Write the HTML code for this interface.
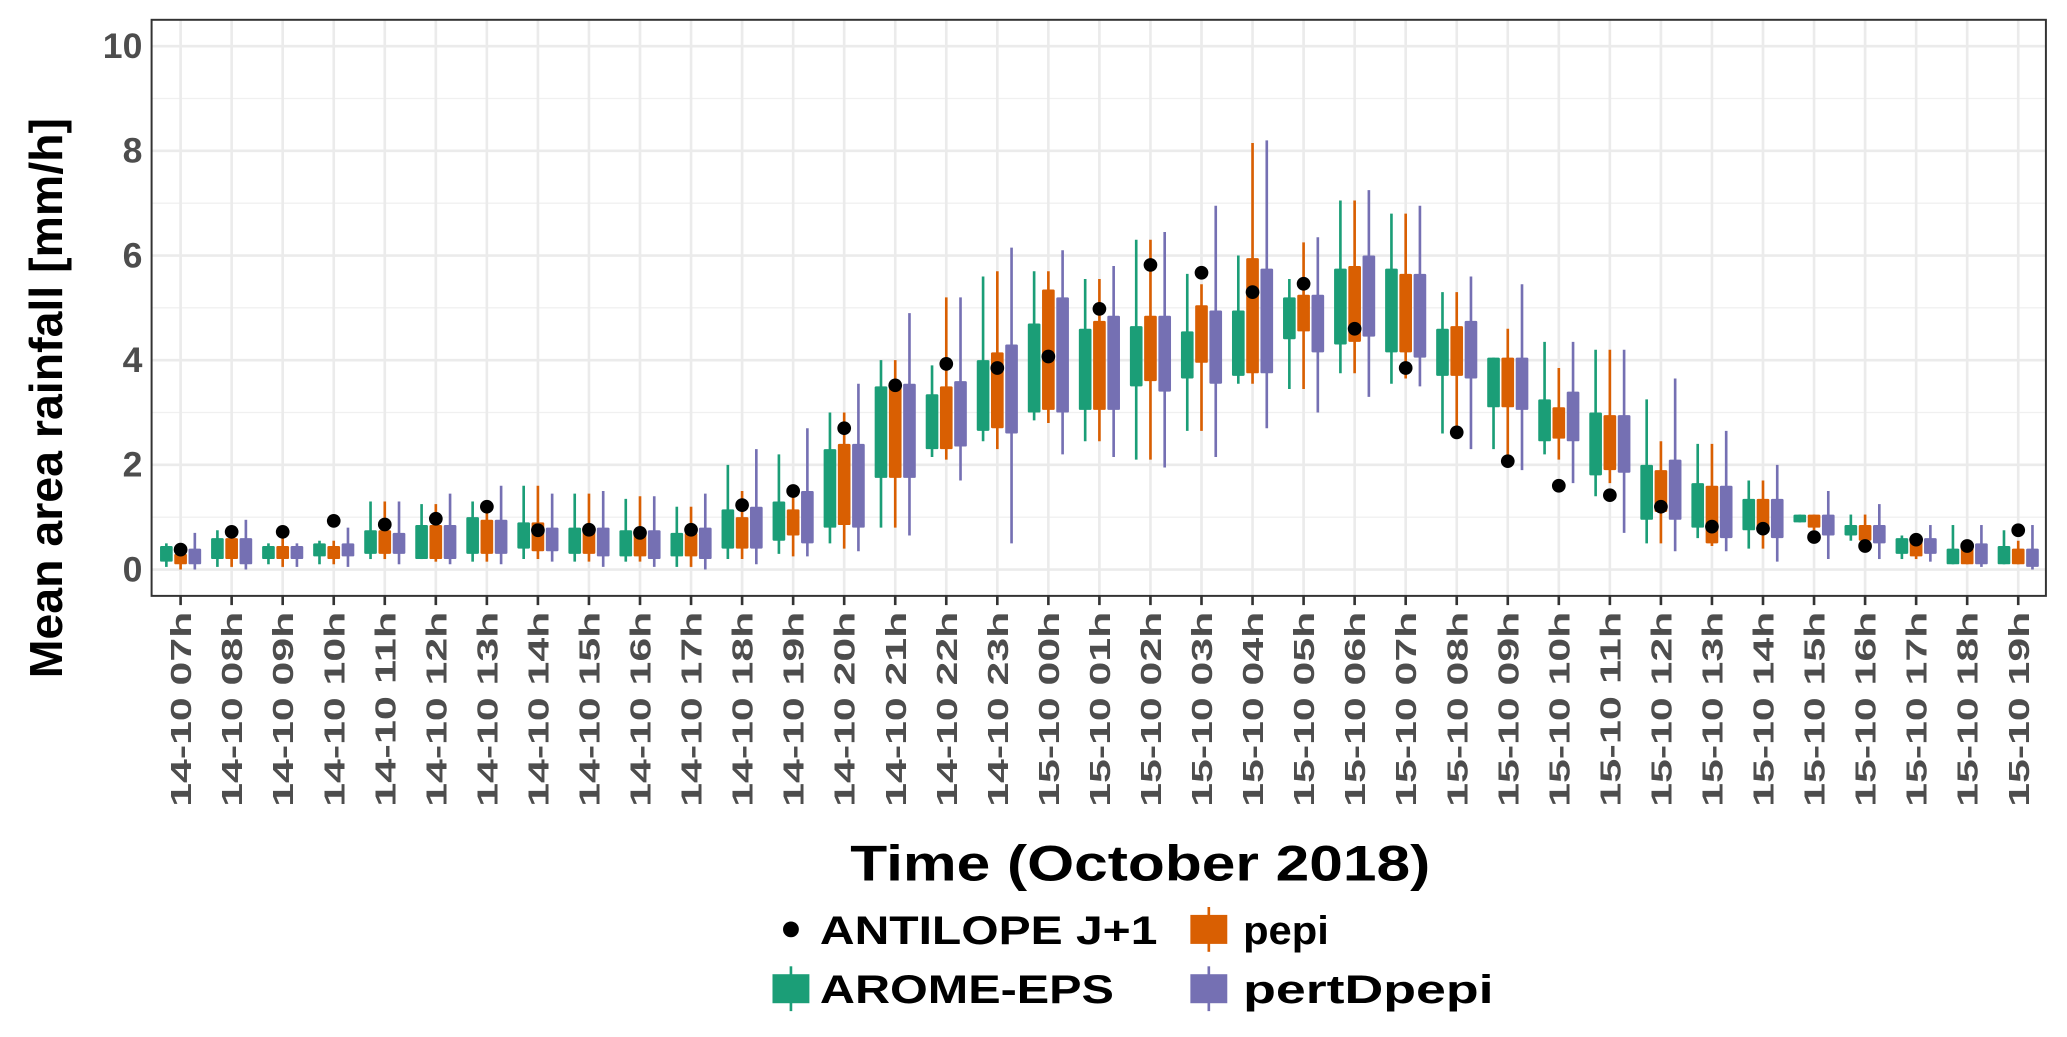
<!DOCTYPE html>
<html><head><meta charset="utf-8"><style>
html,body{margin:0;padding:0;background:#fff;}
svg{display:block;font-family:"Liberation Sans",sans-serif;}
</style></head><body>
<svg id="chart" width="2067" height="1037" viewBox="0 0 1568 786.6" xmlns="http://www.w3.org/2000/svg">
<rect x="0" y="0" width="1568" height="786.6" fill="#fff"/>
<g id="grid"></g><g id="marks"></g><g id="axes"></g>
<text x="0" y="0" transform="translate(47,302) rotate(-90)" text-anchor="middle" font-size="35" font-weight="bold" fill="#000" textLength="425" lengthAdjust="spacingAndGlyphs">Mean area rainfall [mm/h]</text>
<text x="865" y="668" text-anchor="middle" font-size="38" font-weight="bold" fill="#000" textLength="440" lengthAdjust="spacingAndGlyphs">Time (October 2018)</text>
<g>
<g><circle cx="600" cy="705" r="6" fill="#000"/><text x="622" y="716" font-size="30" font-weight="bold" textLength="256" lengthAdjust="spacingAndGlyphs">ANTILOPE J+1</text></g>
<g><line x1="917" y1="688" x2="917" y2="722" stroke="#d95f02" stroke-width="2"/><rect x="903" y="694" width="28" height="22" fill="#d95f02"/><text x="943" y="716" font-size="30" font-weight="bold" textLength="65" lengthAdjust="spacingAndGlyphs">pepi</text></g>
<g><line x1="600" y1="733" x2="600" y2="767" stroke="#1b9e77" stroke-width="2"/><rect x="586" y="739" width="28" height="22" fill="#1b9e77"/><text x="622" y="761" font-size="30" font-weight="bold" textLength="223" lengthAdjust="spacingAndGlyphs">AROME-EPS</text></g>
<g><line x1="917" y1="733" x2="917" y2="767" stroke="#7570b3" stroke-width="2"/><rect x="903" y="739" width="28" height="22" fill="#7570b3"/><text x="943" y="761" font-size="30" font-weight="bold" textLength="190" lengthAdjust="spacingAndGlyphs">pertDpepi</text></g>
</g>
</svg>
<script>
const hours = ["07h","08h","09h","10h","11h","12h","13h","14h","15h","16h","17h","18h","19h","20h","21h","22h","23h","00h","01h","02h","03h","04h","05h","06h","07h","08h","09h","10h","11h","12h","13h","14h","15h","16h","17h","18h","19h"];
const days = ["14-10","14-10","14-10","14-10","14-10","14-10","14-10","14-10","14-10","14-10","14-10","14-10","14-10","14-10","14-10","14-10","14-10","15-10","15-10","15-10","15-10","15-10","15-10","15-10","15-10","15-10","15-10","15-10","15-10","15-10","15-10","15-10","15-10","15-10","15-10","15-10","15-10"];
const yTicks = [0,2,4,6,8,10];
const antilope = [0.38,0.72,0.72,0.93,0.86,0.97,1.2,0.75,0.76,0.7,0.76,1.23,1.5,2.7,3.52,3.93,3.85,4.07,4.98,5.82,5.67,5.3,5.46,4.6,3.85,2.62,2.07,1.6,1.42,1.2,0.82,0.78,0.62,0.45,0.57,0.45,0.75];
// [whiskerLow, q1, q3, whiskerHigh]
const arome = [[0.05,0.15,0.45,0.5],[0.05,0.2,0.6,0.75],[0.1,0.2,0.45,0.5],[0.1,0.25,0.5,0.55],[0.2,0.3,0.75,1.3],[0.2,0.2,0.85,1.25],[0.15,0.3,1.0,1.3],[0.2,0.4,0.9,1.6],[0.15,0.3,0.8,1.45],[0.15,0.25,0.75,1.35],[0.05,0.25,0.7,1.2],[0.2,0.4,1.15,2.0],[0.3,0.55,1.3,2.2],[0.5,0.8,2.3,3.0],[0.8,1.75,3.5,4.0],[2.15,2.3,3.35,3.9],[2.45,2.65,4.0,5.6],[2.85,3.0,4.7,5.7],[2.45,3.05,4.6,5.55],[2.1,3.5,4.65,6.3],[2.65,3.65,4.55,5.65],[3.55,3.7,4.95,6.0],[3.45,4.4,5.2,5.55],[3.75,4.3,5.75,7.05],[3.55,4.15,5.75,6.8],[2.6,3.7,4.6,5.3],[2.3,3.1,4.05,4.05],[2.2,2.45,3.25,4.35],[1.4,1.8,3.0,4.2],[0.5,0.95,2.0,3.25],[0.6,0.8,1.65,2.4],[0.4,0.75,1.35,1.7],[0.9,0.9,1.05,1.05],[0.55,0.65,0.85,1.05],[0.2,0.3,0.6,0.65],[0.1,0.1,0.4,0.85],[0.1,0.1,0.45,0.75]];
const pepi = [[0,0.1,0.3,0.35],[0.05,0.2,0.6,0.75],[0.05,0.2,0.45,0.6],[0.1,0.2,0.45,0.55],[0.2,0.3,0.75,1.3],[0.15,0.2,0.85,1.25],[0.15,0.3,0.95,1.3],[0.2,0.35,0.9,1.6],[0.15,0.3,0.75,1.45],[0.15,0.25,0.7,1.4],[0.05,0.25,0.7,1.2],[0.2,0.4,1.0,1.5],[0.25,0.65,1.15,1.6],[0.4,0.85,2.4,3.0],[0.8,1.75,3.55,4.0],[2.1,2.3,3.5,5.2],[2.3,2.7,4.15,5.7],[2.8,3.05,5.35,5.7],[2.45,3.05,4.75,5.55],[2.1,3.6,4.85,6.3],[2.65,3.95,5.05,5.45],[3.55,3.75,5.95,8.15],[3.45,4.55,5.25,6.25],[3.75,4.35,5.8,7.05],[3.65,4.15,5.65,6.8],[2.6,3.7,4.65,5.3],[1.95,3.1,4.05,4.6],[2.1,2.5,3.1,3.85],[1.65,1.9,2.95,4.2],[0.5,1.1,1.9,2.45],[0.45,0.5,1.6,2.4],[0.4,0.75,1.35,1.7],[0.75,0.8,1.05,1.05],[0.45,0.55,0.85,1.05],[0.2,0.25,0.55,0.6],[0.1,0.1,0.45,0.55],[0.1,0.1,0.4,0.55]];
const pert = [[0,0.1,0.4,0.7],[0,0.1,0.6,0.95],[0.05,0.2,0.45,0.5],[0.05,0.25,0.5,0.8],[0.1,0.3,0.7,1.3],[0.1,0.2,0.85,1.45],[0.1,0.3,0.95,1.6],[0.15,0.35,0.8,1.45],[0.05,0.25,0.8,1.5],[0.05,0.2,0.75,1.4],[0,0.2,0.8,1.45],[0.1,0.4,1.2,2.3],[0.25,0.5,1.5,2.7],[0.35,0.8,2.4,3.55],[0.65,1.75,3.55,4.9],[1.7,2.35,3.6,5.2],[0.5,2.6,4.3,6.15],[2.2,3.0,5.2,6.1],[2.15,3.05,4.85,5.8],[1.95,3.4,4.85,6.45],[2.15,3.55,4.95,6.95],[2.7,3.75,5.75,8.2],[3.0,4.15,5.25,6.35],[3.3,4.45,6.0,7.25],[3.5,4.05,5.65,6.95],[2.3,3.65,4.75,5.6],[1.9,3.05,4.05,5.45],[1.65,2.45,3.4,4.35],[0.7,1.85,2.95,4.2],[0.35,0.95,2.1,3.65],[0.35,0.6,1.6,2.65],[0.15,0.6,1.35,2.0],[0.2,0.65,1.05,1.5],[0.2,0.5,0.85,1.25],[0.15,0.3,0.6,0.85],[0.05,0.1,0.5,0.85],[0,0.05,0.4,0.85]];
const series = [{name:"arome-eps",data:arome,color:"#1b9e77",off:-10.8},{name:"pepi",data:pepi,color:"#d95f02",off:0},{name:"pertdpepi",data:pert,color:"#7570b3",off:10.8}];

const NS="http://www.w3.org/2000/svg";
const L=115,R=1552,T=15,B=452;
const yScale=v=>432-v*39.7;
const xScale=i=>137+i*(1531-137)/(hours.length-1);
function mk(tag,attrs,parent){const e=document.createElementNS(NS,tag);for(const k in attrs)e.setAttribute(k,attrs[k]);parent.appendChild(e);return e;}
const grid=document.getElementById('grid'),marks=document.getElementById('marks'),axes=document.getElementById('axes');
for(let v=1;v<=9;v+=2){const l=mk('line',{x1:L,x2:R,y1:yScale(v),y2:yScale(v),stroke:'#f0f0f0','stroke-width':1},grid);

}
yTicks.forEach(v=>{const l=mk('line',{x1:L,x2:R,y1:yScale(v),y2:yScale(v),stroke:'#ebebeb','stroke-width':2},grid);


const t=mk('text',{x:108,y:yScale(v)+9,'text-anchor':'end','font-size':27,'font-weight':'bold',fill:'#4d4d4d'},axes);


t.textContent=v;});
hours.forEach((h,i)=>{const x=xScale(i);
const l=mk('line',{x1:x,x2:x,y1:T,y2:B,stroke:'#ebebeb','stroke-width':2},grid);


const tk=mk('line',{x1:x,x2:x,y1:B,y2:B+7,stroke:'#333','stroke-width':2},axes);


const t=mk('text',{x:0,y:0,transform:`translate(${x+8},${B+12}) rotate(-90)`,'text-anchor':'end','font-size':22,'font-weight':'bold',fill:'#4d4d4d',textLength:148,lengthAdjust:'spacingAndGlyphs'},axes);


t.textContent=days[i]+' '+h;});
series.forEach(s=>{s.data.forEach((d,i)=>{const x=xScale(i)+s.off;
const w=mk('line',{x1:x,x2:x,y1:yScale(d[3]),y2:yScale(d[0]),stroke:s.color,'stroke-width':2},marks);


const r=mk('rect',{x:x-4.8,y:yScale(d[2]),width:9.6,height:Math.max(1.5,yScale(d[1])-yScale(d[2])),fill:s.color,rx:1},marks);

});});
antilope.forEach((v,i)=>{const c=mk('circle',{cx:xScale(i),cy:yScale(v),r:5.2,fill:'#000'},marks);

});
const fr=mk('rect',{x:L,y:T,width:R-L,height:B-T,fill:'none',stroke:'#333','stroke-width':1.5},axes);


</script>
</body></html>
